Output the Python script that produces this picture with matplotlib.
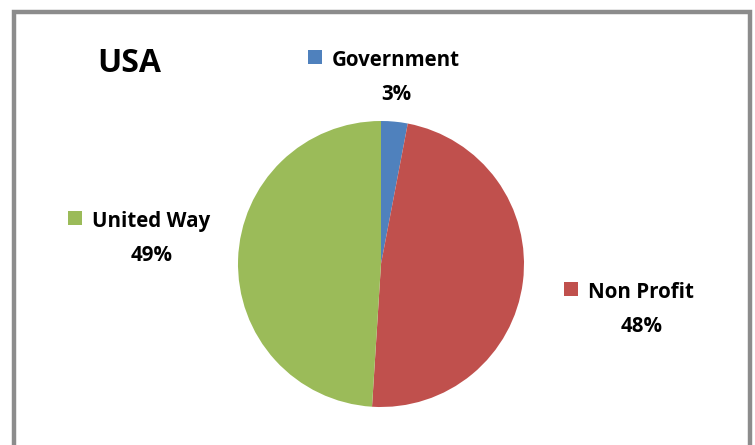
import matplotlib.pyplot as plt
from matplotlib.patches import Rectangle

# datos
categorias = ['Government', 'Non Profit', 'United Way']
valores = [3, 48, 49]
colores = ['#4F81BD', '#C0504D', '#9BBB59']
titulo = 'USA'

W, H = 755, 445
fig = plt.figure(figsize=(W / 100, H / 100), dpi=100)
plt.rcParams['font.family'] = ['Open Sans', 'DejaVu Sans']

# marco gris tipo Excel
fig.patches.append(Rectangle((14 / W, -0.1), (750 - 14) / W, (H - 12) / H + 0.1,
                             transform=fig.transFigure, fill=False,
                             edgecolor='#8C8C8C', linewidth=3.2))

# pie: centro (381, 264) px, radio 143 px
cx, cy, r = 381, 264, 143
ax = fig.add_axes([(cx - r) / W, (H - cy - r) / H, 2 * r / W, 2 * r / H])
ax.pie(valores, colors=colores, startangle=90, counterclock=False,
       wedgeprops=dict(linewidth=0))
ax.set_xlim(-1, 1)
ax.set_ylim(-1, 1)
ax.set_aspect('equal')
ax.axis('off')

fig.text(97 / W, 1 - 72 / H, titulo, fontsize=23, fontweight='bold',
         ha='left', va='baseline')

# etiquetas: (x cuadrado, y línea nombre, x centro porcentaje)
posiciones = [(308, 66, 396), (564, 298, 642), (68, 227, 152)]
for cat, val, col, (xs, yb, xc) in zip(categorias, valores, colores, posiciones):
    fig.patches.append(Rectangle((xs / W, 1 - (yb - 2) / H), 14 / W, 14 / H,
                                 transform=fig.transFigure, facecolor=col,
                                 edgecolor='none'))
    fig.text((xs + 24) / W, 1 - yb / H, cat, fontsize=14.8, fontweight='bold',
             ha='left', va='baseline')
    fig.text(xc / W, 1 - (yb + 34) / H, f'{val}%', fontsize=14.8,
             fontweight='bold', ha='center', va='baseline')

fig.savefig('out.png', dpi=100)
